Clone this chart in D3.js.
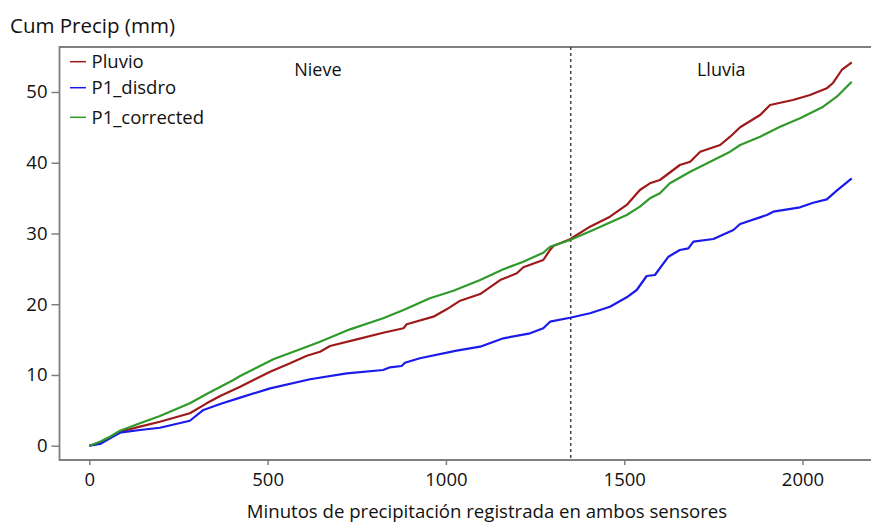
<!DOCTYPE html>
<html><head><meta charset="utf-8">
<script src="https://cdn.jsdelivr.net/npm/d3@7"></script>
<style>
body{margin:0;background:#fff;}
text{font-family:"Open Sans",sans-serif;fill:#111;}
</style></head>
<body><svg id="c" width="871" height="523"></svg>
<script>
// minutes, cumulative precipitation (mm)
const pluvioX = [0,30,86,142,198,282,329,367,423,507,563,610,647,675,750,824,881,890,965,1002,1040,1096,1152,1199,1217,1273,1292,1301,1348,1404,1460,1507,1544,1572,1600,1656,1685,1713,1769,1797,1825,1881,1909,1973,2021,2068,2086,2110,2138];
const pluvioY = [0,0.42,1.98,2.69,3.39,4.58,5.99,7.03,8.34,10.46,11.65,12.72,13.29,14.09,15.04,15.97,16.60,17.16,18.24,19.28,20.50,21.44,23.42,24.37,25.22,26.25,27.67,28.23,29.18,30.96,32.37,34.03,36.15,37.09,37.56,39.68,40.15,41.56,42.51,43.68,45.01,46.75,48.16,48.87,49.58,50.52,51.31,53.11,54.20];

const disdroX = [0,30,58,86,142,198,282,320,367,423,507,619,722,824,843,876,885,927,1030,1096,1161,1236,1273,1292,1348,1404,1460,1507,1535,1563,1586,1624,1656,1680,1694,1750,1806,1825,1900,1918,1993,2030,2068,2096,2138];
const disdroY = [0,0.24,1.05,1.84,2.22,2.54,3.53,5.05,5.89,6.80,8.11,9.39,10.23,10.70,11.08,11.27,11.73,12.36,13.43,14.00,15.18,15.89,16.60,17.53,18.09,18.72,19.65,20.98,22.01,23.99,24.13,26.72,27.66,27.90,28.84,29.22,30.49,31.34,32.61,33.08,33.70,34.35,34.83,36.05,37.80];

const corrX = [0,30,58,86,142,198,282,329,404,423,516,610,647,731,824,881,955,1021,1096,1161,1217,1273,1292,1348,1413,1507,1544,1572,1600,1628,1685,1741,1797,1825,1881,1937,1993,2058,2096,2138];
const corrY = [0,0.57,1.27,2.12,3.17,4.20,5.99,7.31,9.29,9.85,12.21,14.00,14.70,16.45,18.01,19.18,20.84,21.91,23.42,24.94,26.01,27.28,28.13,29.08,30.49,32.61,33.79,34.97,35.68,37.09,38.73,40.15,41.56,42.51,43.68,45.10,46.28,47.92,49.34,51.46];

const seriesNames = ["Pluvio","P1_disdro","P1_corrected"];
const seriesColors = ["#9e1a1a","#1a1aeb","#2f9a2a"];
const xTicks = [0,500,1000,1500,2000];
const yTicks = [0,10,20,30,40,50];
const divider = 1350;
const regionLabels = [{t:"Nieve",x:641},{t:"Lluvia",x:1772}];

const series = [
  pluvioX.map((x,i)=>[x,pluvioY[i]]),
  disdroX.map((x,i)=>[x,disdroY[i]]),
  corrX.map((x,i)=>[x,corrY[i]])
];

const L=59.5,R=871,T=47,B=460;
const x = d3.scaleLinear().domain([-83.6,2192]).range([L,R]);
const y = d3.scaleLinear().domain([-2.02,56.36]).range([B,T]);
const svg = d3.select("#c");
const axisCol="#7f7f7f";

// x axis
const gx = svg.append("g").attr("transform",`translate(0,${B})`)
  .call(d3.axisBottom(x).tickValues(xTicks).tickSize(5).tickPadding(8).tickFormat(d3.format("d")));
gx.select(".domain").remove();
gx.selectAll("line").attr("stroke",axisCol).attr("stroke-width",1.5);
gx.selectAll("text").style("font-size","18.5px").attr("font-family","Open Sans").attr("fill","#111");

// y axis
const gy = svg.append("g").attr("transform",`translate(${L},0)`)
  .call(d3.axisLeft(y).tickValues(yTicks).tickSize(8).tickPadding(4));
gy.select(".domain").remove();
gy.selectAll("line").attr("stroke",axisCol).attr("stroke-width",1.5);
gy.selectAll("text").style("font-size","18.5px").attr("font-family","Open Sans").attr("fill","#111");

// frame (left, bottom, top)
svg.append("path").attr("d",`M${R},${T}H${L}V${B}H${R}`).attr("fill","none")
  .attr("stroke",axisCol).attr("stroke-width",1.8);

// divider
svg.append("line").attr("x1",x(divider)).attr("x2",x(divider)).attr("y1",T).attr("y2",B)
  .attr("stroke","#444").attr("stroke-width",1.5).attr("stroke-dasharray","3,3");

// lines
const line = d3.line().x(d=>x(d[0])).y(d=>y(d[1]));
series.forEach((s,i)=>{
  svg.append("path").datum(s).attr("d",line).attr("fill","none")
    .attr("stroke",seriesColors[i]).attr("stroke-width",2.2).attr("stroke-linejoin","round");
});

// region labels
regionLabels.forEach(r=>{
  svg.append("text").attr("x",x(r.x)).attr("y",76).attr("text-anchor","middle")
    .style("font-size","18px").text(r.t);
});

// legend
const legY=[61.7,87.7,117.3];
seriesNames.forEach((n,i)=>{
  svg.append("line").attr("x1",70).attr("x2",86).attr("y1",legY[i]).attr("y2",legY[i])
    .attr("stroke",seriesColors[i]).attr("stroke-width",1.5);
  svg.append("text").attr("x",91.5).attr("y",legY[i]+6.5).style("font-size","18.5px").text(n);
});

// titles
svg.append("text").attr("x",10).attr("y",33).style("font-size","20.5px").text("Cum Precip (mm)");
svg.append("text").attr("x",487).attr("y",518).attr("text-anchor","middle").style("font-size","18.6px")
  .text("Minutos de precipitación registrada en ambos sensores");
</script></body></html>
